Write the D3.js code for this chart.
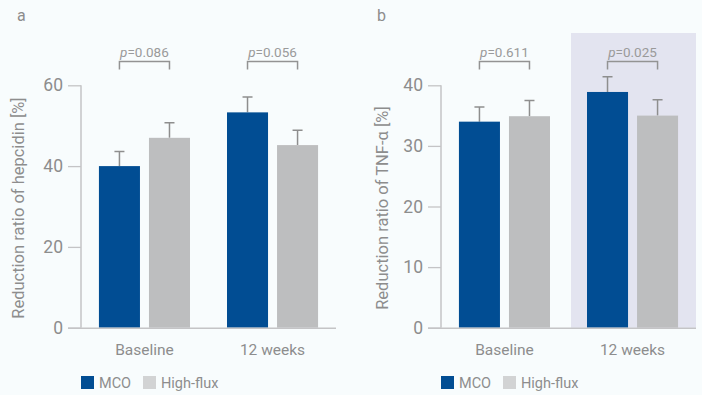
<!DOCTYPE html>
<html><head><meta charset="utf-8">
<script src="https://cdn.jsdelivr.net/npm/d3@7"></script>
<style>
html,body{margin:0;padding:0;background:#f8fcfd;}
svg{display:block;font-family:Roboto, "Noto Sans", sans-serif;}
</style></head>
<body><svg id="c" width="702" height="395"></svg>
<script>
const categories = ["Baseline", "12 weeks"];
const seriesNames = ["MCO", "High-flux"];
// Panel a: hepcidin
const hepcidinMCO = [40.0, 53.3];
const hepcidinMCOErr = [3.6, 3.8];
const hepcidinHF = [47.0, 45.2];
const hepcidinHFErr = [3.7, 3.7];
const hepcidinP = ["0.086", "0.056"];
const hepcidinTicks = [0, 20, 40, 60];
// Panel b: TNF-alpha
const tnfMCO = [34.0, 38.9];
const tnfMCOErr = [2.4, 2.5];
const tnfHF = [34.9, 35.0];
const tnfHFErr = [2.6, 2.6];
const tnfP = ["0.611", "0.025"];
const tnfTicks = [0, 10, 20, 30, 40];

const colors = {MCO: "#014d93", HF: "#bdbebf", HFlegend: "#d2d3d4"};
const textGray = "#8d8d8d";
const axisGray = "#c4c4c6";
const svg = d3.select("#c");

function panel(o) {
  const g = svg.append("g");
  const y = d3.scaleLinear().domain([0, o.ymax]).range([327.7, 85.3]);
  const x0 = d3.scaleBand().domain(categories).range([o.axisX, o.axisX + o.plotW]).paddingInner(0.289).paddingOuter(0.14 + o.outerAdj);
  const x1 = d3.scaleBand().domain(seriesNames).range([0, x0.bandwidth()]).paddingInner(0.18);

  if (o.shade) {
    g.append("rect").attr("x", o.shade[0]).attr("y", 33)
      .attr("width", o.shade[1] - o.shade[0]).attr("height", 327.7 - 33).attr("fill", "#e3e4f0");
  }
  // panel letter
  g.append("text").attr("x", o.letterX).attr("y", 21).attr("fill", textGray)
    .attr("font-size", 16).text(o.letter);

  // axis
  const ax = d3.axisLeft(y).tickValues(o.ticks).tickSize(13).tickPadding(5);
  const axG = g.append("g").attr("transform", `translate(${o.axisX},0)`).call(ax);
  axG.select(".domain").attr("stroke", axisGray).attr("stroke-width", 1.5)
     .attr("d", `M0,${y(o.ymax)}V${y(0)}`);
  axG.selectAll(".tick line").attr("stroke", axisGray).attr("stroke-width", 1.3);
  axG.selectAll(".tick text").attr("fill", textGray).attr("font-size", 17.5).attr("font-family", "Roboto");

  // y label
  g.append("text").attr("transform", `translate(${o.labelX},${o.labelY}) rotate(-90)`)
    .attr("text-anchor", "middle").attr("fill", textGray).attr("font-size", 16.5)
    .text(o.ylabel);

  const data = categories.map((c, i) => ({
    cat: c,
    vals: [
      {s: "MCO", v: o.mco[i], e: o.mcoErr[i], c: colors.MCO},
      {s: "High-flux", v: o.hf[i], e: o.hfErr[i], c: colors.HF}
    ],
    p: o.p[i]
  }));

  const grp = g.selectAll(".grp").data(data).enter().append("g")
    .attr("transform", d => `translate(${x0(d.cat)},0)`);

  // error bars
  grp.selectAll(".err").data(d => d.vals).enter().append("path")
    .attr("d", d => {
      const cx = x1(d.s) + x1.bandwidth() / 2;
      return `M${cx},${y(d.v)}V${y(d.v + d.e)}M${cx - 5},${y(d.v + d.e)}H${cx + 5}`;
    })
    .attr("stroke", "#8e8e8e").attr("stroke-width", 1.5).attr("fill", "none");

  grp.selectAll(".bar").data(d => d.vals).enter().append("rect")
    .attr("x", d => x1(d.s)).attr("width", x1.bandwidth())
    .attr("y", d => y(d.v)).attr("height", d => y(0) - y(d.v))
    .attr("fill", d => d.c);

  // x axis line
  g.append("line").attr("x1", o.axisX - 13).attr("x2", o.axisX + o.plotW)
    .attr("y1", y(0) + 0.5).attr("y2", y(0) + 0.5).attr("stroke", axisGray).attr("stroke-width", 1.5);

  // category labels
  grp.append("text").attr("x", x0.bandwidth() / 2).attr("y", 354.5)
    .attr("text-anchor", "middle").attr("fill", textGray).attr("font-size", 15.5)
    .text(d => d.cat);

  // p brackets
  grp.append("path").attr("d", () => {
    const a = x1("MCO") + x1.bandwidth() / 2, b = x1("High-flux") + x1.bandwidth() / 2;
    return `M${a},69.5V61.5H${b}V69.5`;
  }).attr("stroke", "#939393").attr("stroke-width", 1.5).attr("fill", "none");
  const pt = grp.append("text").attr("x", x0.bandwidth() / 2).attr("y", 56.5)
    .attr("text-anchor", "middle").attr("fill", "#9a9a9a").attr("font-size", 13.5);
  pt.append("tspan").attr("font-style", "italic").text("p");
  pt.append("tspan").text(d => "=" + d.p);

  // legend
  const lg = g.append("g").attr("transform", `translate(${o.axisX},376)`);
  const items = [{n: "MCO", c: colors.MCO, dx: 0}, {n: "High-flux", c: colors.HFlegend, dx: 62}];
  const li = lg.selectAll("g").data(items).enter().append("g").attr("transform", d => `translate(${d.dx},0)`);
  li.append("rect").attr("width", 13).attr("height", 13).attr("fill", d => d.c);
  li.append("text").attr("x", 18).attr("y", 12).attr("fill", textGray).attr("font-size", 14.5).text(d => d.n);
}

panel({letter: "a", letterX: 17, axisX: 81, plotW: 255, ymax: 60, ticks: hepcidinTicks, outerAdj: 0,
  mco: hepcidinMCO, mcoErr: hepcidinMCOErr, hf: hepcidinHF, hfErr: hepcidinHFErr, p: hepcidinP,
  ylabel: "Reduction ratio of hepcidin [%]", labelX: 24, labelY: 208});
panel({letter: "b", letterX: 377, axisX: 441, plotW: 255, ymax: 40, ticks: tnfTicks, outerAdj: 0,
  mco: tnfMCO, mcoErr: tnfMCOErr, hf: tnfHF, hfErr: tnfHFErr, p: tnfP,
  ylabel: "Reduction ratio of TNF-α [%]", labelX: 388, labelY: 208, shade: [571, 696]});
</script></body></html>
